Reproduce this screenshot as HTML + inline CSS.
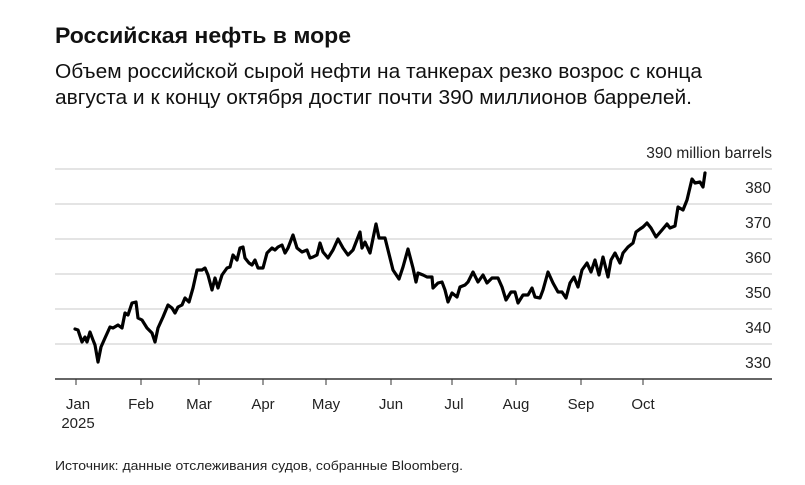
<!DOCTYPE html>
<html><head><meta charset="utf-8"><style>
body{margin:0;background:#fff;width:805px;height:485px;overflow:hidden}
svg{display:block;font-family:"Liberation Sans",Arial,sans-serif}
</style></head><body>
<svg width="805" height="485" viewBox="0 0 805 485">
<text x="55" y="43" font-size="22.5" font-weight="bold" fill="#111" textLength="296" lengthAdjust="spacingAndGlyphs">Российская нефть в море</text>
<text x="55" y="78" font-size="20" fill="#111" textLength="647" lengthAdjust="spacingAndGlyphs">Объем российской сырой нефти на танкерах резко возрос с конца</text>
<text x="55" y="104" font-size="20" fill="#111" textLength="637" lengthAdjust="spacingAndGlyphs">августа и к концу октября достиг почти 390 миллионов баррелей.</text>
<g stroke="#dcdcdc" stroke-width="1.5">
<line x1="55" y1="169" x2="772" y2="169"/><line x1="55" y1="204" x2="772" y2="204"/>
<line x1="55" y1="239" x2="772" y2="239"/><line x1="55" y1="274" x2="772" y2="274"/>
<line x1="55" y1="309" x2="772" y2="309"/><line x1="55" y1="344" x2="772" y2="344"/>
</g>
<line x1="55" y1="379" x2="772" y2="379" stroke="#333" stroke-width="1.5"/>
<g stroke="#333" stroke-width="1"><line x1="76" y1="379" x2="76" y2="385"/><line x1="141" y1="379" x2="141" y2="385"/><line x1="199" y1="379" x2="199" y2="385"/><line x1="263" y1="379" x2="263" y2="385"/><line x1="326" y1="379" x2="326" y2="385"/><line x1="391" y1="379" x2="391" y2="385"/><line x1="452" y1="379" x2="452" y2="385"/><line x1="516" y1="379" x2="516" y2="385"/><line x1="581" y1="379" x2="581" y2="385"/><line x1="643" y1="379" x2="643" y2="385"/></g>
<g font-size="15" fill="#222" text-anchor="middle">
<text x="78" y="409">Jan</text><text x="78" y="428">2025</text><text x="141" y="409">Feb</text><text x="199" y="409">Mar</text><text x="263" y="409">Apr</text><text x="326" y="409">May</text><text x="391" y="409">Jun</text><text x="454" y="409">Jul</text><text x="516" y="409">Aug</text><text x="581" y="409">Sep</text><text x="643" y="409">Oct</text>
</g>
<g font-size="15.5" fill="#222" text-anchor="end">
<text x="772" y="158">390 million barrels</text>
<text x="771" y="193">380</text><text x="771" y="228">370</text><text x="771" y="263">360</text><text x="771" y="298">350</text><text x="771" y="333">340</text><text x="771" y="368">330</text>
</g>
<polyline fill="none" stroke="#000" stroke-width="3.2" stroke-linejoin="round" stroke-linecap="round" points="75,329 78,330 82,342 85,337 87,342 90,332 93,340 95,345 98,362 101,347 105,338 110,327 113,328 118,325 122,328 125,313 128,315 132,303 136,302 138,318 142,320 147,328 152,333 155,342 158,328 163,317 168,305 172,308 175,313 178,307 182,305 185,298 189,302 193,288 197,270 202,270 205,268 208,275 212,290 215,278 218,288 222,275 227,268 230,267 233,255 237,260 240,248 243,247 245,258 249,263 252,265 255,260 258,268 263,268 267,253 272,248 275,250 278,247 282,245 285,253 288,248 293,235 297,248 302,252 307,250 310,258 313,257 317,255 320,243 323,252 328,258 333,250 338,239 343,248 348,255 353,250 360,232 362,248 365,242 370,253 376,224 379,238 385,238 388,250 393,270 399,279 403,267 408,249 413,268 416,282 418,273 423,275 427,277 432,277 433,288 438,283 442,282 445,290 448,302 452,293 457,297 460,287 465,285 468,282 473,272 478,282 483,275 487,283 492,278 498,278 502,287 506,300 511,292 515,292 518,303 523,295 528,295 532,288 535,297 540,298 543,290 548,272 553,283 558,292 562,292 566,298 570,283 574,277 578,287 582,270 587,263 591,272 595,260 599,275 603,257 608,277 611,260 615,253 620,263 623,253 628,247 633,243 636,232 640,229 643,227 647,223 651,228 656,237 662,230 667,224 670,228 675,226 678,207 683,210 687,200 692,179 695,183 700,182 703,187 705,173"/>
<text x="55" y="470" font-size="13" fill="#222" textLength="408" lengthAdjust="spacingAndGlyphs">Источник: данные отслеживания судов, собранные Bloomberg.</text>
</svg>
</body></html>
